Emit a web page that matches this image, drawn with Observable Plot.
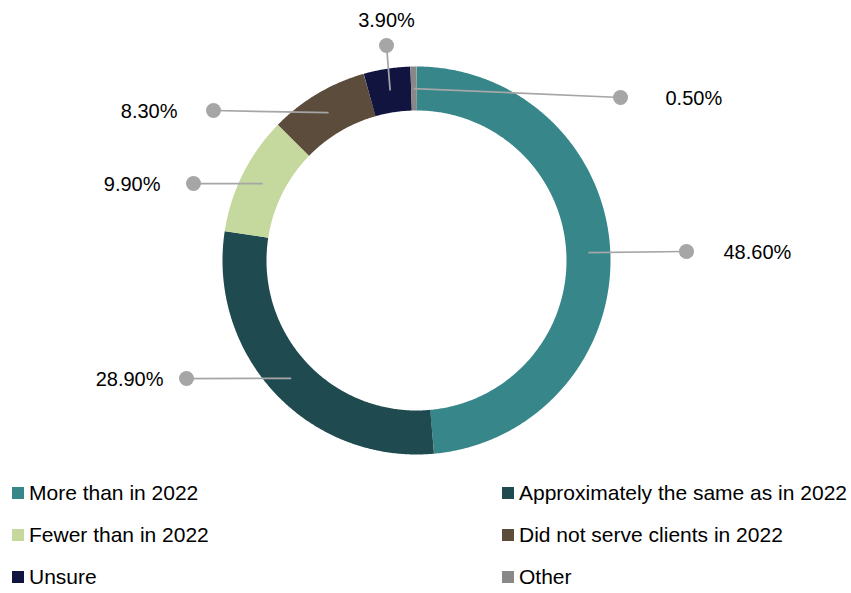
<!DOCTYPE html>
<html><head><meta charset="utf-8">
<script src="https://cdn.jsdelivr.net/npm/d3@7"></script>
<script src="https://cdn.jsdelivr.net/npm/@observablehq/plot@0.6"></script>
<style>
body{margin:0;background:#fff;font-family:"Liberation Sans",Arial,sans-serif;}
#chart svg{display:block;}
#legend{display:grid;grid-template-columns:490px 349px;grid-auto-rows:42px;padding-left:12px;}
.item{display:flex;align-items:center;font-size:21px;color:#000;white-space:nowrap;}
.sw{width:12px;height:12px;margin-right:5px;flex:none;}
</style></head><body><div id="chart"></div><div id="legend"></div>
<script>
// ---- data ----
const categories = ["More than in 2022", "Approximately the same as in 2022", "Fewer than in 2022", "Did not serve clients in 2022", "Unsure", "Other"];
const values = [48.6, 28.9, 9.9, 8.3, 3.9, 0.5];
const valueLabels = ["48.60%", "28.90%", "9.90%", "8.30%", "3.90%", "0.50%"];
const colors = ["#36868A", "#1F4A50", "#C5D89D", "#5B4C3C", "#11143F", "#888888"];

// ---- layout (chart units: px relative to donut centre) ----
const R_MID = 172, RING = 44;
const dotPos = [[270, -9], [-230, 118], [-223, -77], [-203, -150], [-30, -215], [204, -163]];
const textPos = [[307, -8, "start"], [-253, 119, "end"], [-256, -76, "end"], [-239, -149, "end"], [-30, -240, "middle"], [249, -162, "start"]];

const total = d3.sum(values);
let acc = 0;
const arcs = categories.map((c, i) => {
  const a0 = acc / total * 2 * Math.PI; acc += values[i];
  const a1 = acc / total * 2 * Math.PI;
  return {c, a0, a1, mid: (a0 + a1) / 2};
});
const ringPts = arcs.flatMap(s => {
  const n = Math.max(2, Math.ceil((s.a1 - s.a0) / (Math.PI / 360)));
  return d3.range(n + 1).map(k => {
    const a = s.a0 + (s.a1 - s.a0) * k / n;
    return {c: s.c, x: R_MID * Math.sin(a), y: -R_MID * Math.cos(a)};
  });
});
const labelData = arcs.map((s, i) => ({
  c: s.c, label: valueLabels[i],
  x1: R_MID * Math.sin(s.mid), y1: -R_MID * Math.cos(s.mid),
  x2: dotPos[i][0], y2: dotPos[i][1],
  tx: textPos[i][0], ty: textPos[i][1], anchor: textPos[i][2]
}));

const textMark = anchor => Plot.text(labelData.filter(d => d.anchor === anchor), {
  x: "tx", y: "ty", text: "label", textAnchor: anchor, fontSize: 20, fill: "#000", fontFamily: "Liberation Sans"
});

const chart = Plot.plot({
  width: 851, height: 472, margin: 0,
  style: {fontFamily: "Liberation Sans", background: "#fff"},
  x: {domain: [-416, 435], range: [0, 851], axis: null},
  y: {domain: [-260, 212], range: [0, 472], axis: null},
  color: {domain: categories, range: colors},
  marks: [
    Plot.line(ringPts, {x: "x", y: "y", z: "c", stroke: "c", strokeWidth: RING, strokeLinecap: "butt", strokeLinejoin: "round", curve: "linear"}),
    Plot.link(labelData, {x1: "x1", y1: "y1", x2: "x2", y2: "y2", stroke: "#A6A6A6", strokeWidth: 1.75}),
    Plot.dot(labelData, {x: "x2", y: "y2", r: 7.5, fill: "#A6A6A6"}),
    textMark("start"), textMark("end"), textMark("middle")
  ]
});
document.getElementById("chart").appendChild(chart);

const legend = document.getElementById("legend");
categories.forEach((c, i) => {
  const it = document.createElement("div"); it.className = "item";
  const sw = document.createElement("span"); sw.className = "sw"; sw.style.background = colors[i];
  const t = document.createElement("span"); t.textContent = c;
  it.appendChild(sw); it.appendChild(t); legend.appendChild(it);
});
</script></body></html>
